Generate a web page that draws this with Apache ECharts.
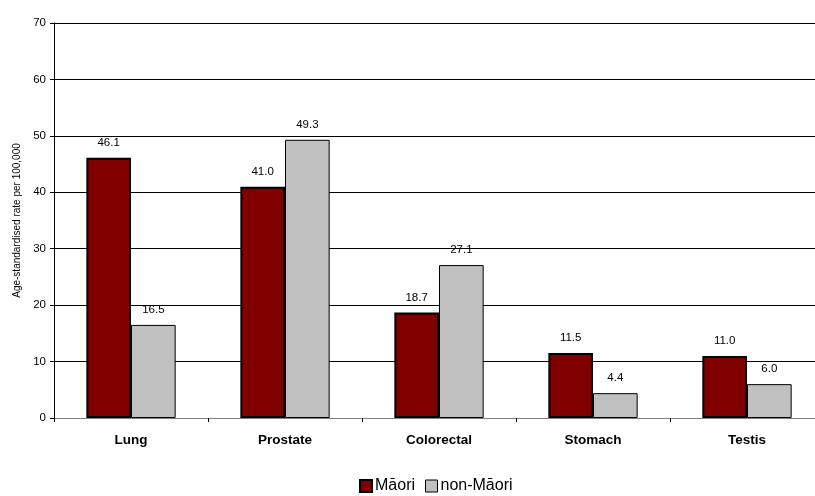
<!DOCTYPE html>
<html><head><meta charset="utf-8">
<script src="https://cdn.jsdelivr.net/npm/echarts@6/dist/echarts.min.js"></script>
<style>html,body{margin:0;padding:0;background:#fff;overflow:hidden;width:815px;height:496px}#c{width:826px;height:496px}</style>
</head><body><div id="c"></div>
<script>
const categories = ['Lung', 'Prostate', 'Colorectal', 'Stomach', 'Testis'];
const maori = [46.1, 41.0, 18.7, 11.5, 11.0];
const nonMaori = [16.5, 49.3, 27.1, 4.4, 6.0];
const seriesNames = ['Māori', 'non-Māori'];
const yAxisName = 'Age-standardised rate per 100,000';

const chart = echarts.init(document.getElementById('c'), null, {renderer: 'canvas'});
const font = 'Arial, "Liberation Sans", sans-serif';
const lbl = {show: true, position: 'top', distance: 9, color: '#000', fontSize: 11.5, fontFamily: font,
  formatter: p => p.value.toFixed(1)};
chart.setOption({
  animation: false,
  grid: {left: 54, top: 23, width: 770, height: 395, containLabel: false},
  legend: {
    left: 359, top: 478, padding: 0, itemWidth: 12, itemHeight: 12, itemGap: 10,
    textStyle: {fontSize: 16, fontFamily: font, color: '#000', padding: [0, 0, 0, -2]},
    data: [
      {name: seriesNames[0], icon: 'rect', itemStyle: {color: '#800000', borderColor: '#000', borderWidth: 2}},
      {name: seriesNames[1], icon: 'rect', itemStyle: {color: '#C0C0C0', borderColor: '#000', borderWidth: 1}}
    ]
  },
  xAxis: {
    type: 'category', data: categories,
    axisLine: {lineStyle: {color: '#808080', width: 1}},
    axisTick: {show: true, length: 4, alignWithLabel: false, lineStyle: {color: '#000'}},
    axisLabel: {fontSize: 13.5, fontWeight: 'bold', fontFamily: font, color: '#000', margin: 15}
  },
  yAxis: {
    type: 'value', min: 0, max: 70, interval: 10,
    name: yAxisName, nameLocation: 'middle', nameGap: 32,
    nameTextStyle: {fontSize: 10, fontFamily: font, color: '#000'},
    axisLine: {show: true, lineStyle: {color: '#000'}},
    axisTick: {show: true, length: 4, lineStyle: {color: '#000'}},
    axisLabel: {fontSize: 11.5, fontFamily: font, color: '#000', margin: 8},
    splitLine: {lineStyle: {color: '#000', width: 1}}
  },
  series: [
    {name: seriesNames[0], type: 'bar', data: maori, barGap: '0%', barCategoryGap: '42%',
      itemStyle: {color: '#800000', borderColor: '#000', borderWidth: 2}, label: lbl},
    {name: seriesNames[1], type: 'bar', data: nonMaori, barGap: '0%', barCategoryGap: '42%',
      itemStyle: {color: '#C0C0C0', borderColor: '#000', borderWidth: 1}, label: lbl}
  ]
});
</script></body></html>
